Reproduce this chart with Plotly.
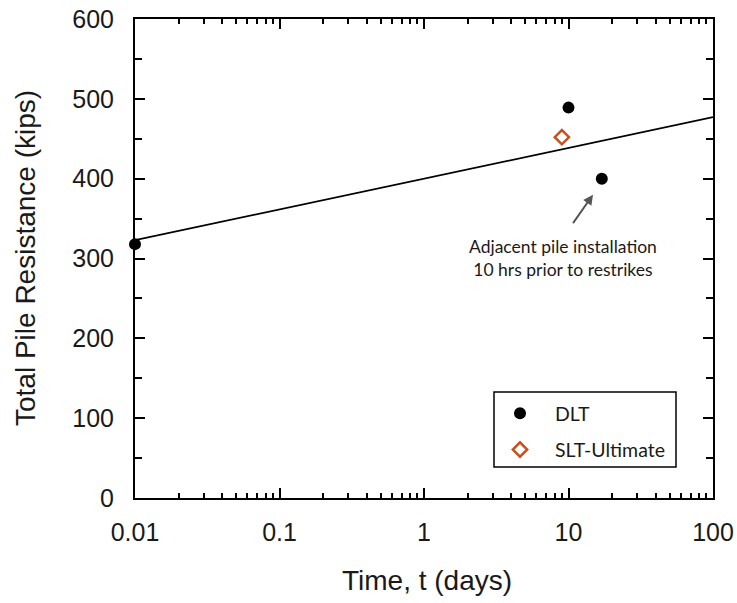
import plotly.graph_objects as go

# Data
dlt_t = [0.01, 10, 17]
dlt_q = [318, 489, 400]
slt_t = [9.0]
slt_q = [452]
trend_t = [0.01, 100]
trend_q = [323, 477]

x_tickvals = [0.01, 0.1, 1, 10, 100]
x_ticktext = ["0.01", "0.1", "1", "10", "100"]
x_minor = [m * d for d in [0.01, 0.1, 1, 10] for m in range(2, 10)]
y_tickvals = [0, 100, 200, 300, 400, 500, 600]

AX_FONT = "Liberation Sans, Arial, sans-serif"
LG_FONT = "Lato, Open Sans, sans-serif"
TXT = "#1a1a1a"

fig = go.Figure()
fig.add_trace(go.Scatter(x=trend_t, y=trend_q, mode="lines",
                         line=dict(color="black", width=1.8),
                         showlegend=False, hoverinfo="skip"))
fig.add_trace(go.Scatter(x=dlt_t, y=dlt_q, mode="markers", name="DLT",
                         legendgroup="a", cliponaxis=False,
                         marker=dict(color="black", size=12, symbol="circle")))
fig.add_trace(go.Scatter(x=slt_t, y=slt_q, mode="markers", name="SLT-Ultimate",
                         legendgroup="b", cliponaxis=False,
                         marker=dict(color="white", size=11, symbol="diamond",
                                     line=dict(color="#c8501e", width=2.5))))

L, R, T, B = 135, 24, 19, 105
W, H = 737, 603
pw, ph = W - L - R, H - T - B

def px_x(p):
    return (p - L) / pw

def px_y(p):
    return (H - B - p) / ph

fig.update_layout(
    width=W, height=H,
    margin=dict(l=L, r=R, t=T, b=B, pad=0, autoexpand=False),
    paper_bgcolor="white", plot_bgcolor="white",
    showlegend=True,
    legend=dict(x=px_x(485), y=px_y(394), xanchor="left", yanchor="top",
                bgcolor="rgba(0,0,0,0)", borderwidth=0,
                font=dict(family=LG_FONT, size=19.5, color=TXT),
                tracegroupgap=8, itemwidth=60),
    xaxis=dict(type="log", range=[-2, 2], tickvals=x_tickvals, ticktext=x_ticktext,
               automargin=False,
               ticks="inside", ticklen=10, tickwidth=2, tickcolor="black",
               showline=True, linewidth=2, linecolor="black", mirror="ticks",
               showgrid=False, zeroline=False,
               tickfont=dict(family=AX_FONT, size=25, color=TXT),
               ticklabelstandoff=11,
               minor=dict(tickvals=x_minor, ticks="inside", ticklen=5,
                          tickwidth=2, tickcolor="black", showgrid=False)),
    yaxis=dict(range=[0, 600], tickvals=y_tickvals,
               automargin=False,
               ticks="inside", ticklen=10, tickwidth=2, tickcolor="black",
               showline=True, linewidth=2, linecolor="black", mirror="ticks",
               showgrid=False, zeroline=False,
               tickfont=dict(family=AX_FONT, size=25, color=TXT),
               ticklabelstandoff=14,
               minor=dict(dtick=50, ticks="inside", ticklen=7,
                          tickwidth=2, tickcolor="black", showgrid=False)),
)

# legend box
fig.add_shape(type="rect", xref="paper", yref="paper",
              x0=px_x(494), x1=px_x(676), y0=px_y(467), y1=px_y(392),
              line=dict(color="black", width=1.5), fillcolor="rgba(0,0,0,0)")

# axis titles
fig.add_annotation(text="Time, t (days)", xref="paper", yref="paper",
                   x=px_x(427), y=px_y(580), showarrow=False,
                   xanchor="center", yanchor="middle",
                   font=dict(family=AX_FONT, size=28, color=TXT))
fig.add_annotation(text="Total Pile Resistance (kips)", xref="paper", yref="paper",
                   x=px_x(25), y=px_y(258), showarrow=False, textangle=-90,
                   xanchor="center", yanchor="middle",
                   font=dict(family=AX_FONT, size=28, color=TXT))

# note and arrow
fig.add_annotation(text="Adjacent pile installation<br>10 hrs prior to restrikes",
                   xref="paper", yref="paper", x=px_x(563), y=px_y(258),
                   showarrow=False, xanchor="center", yanchor="middle",
                   align="center",
                   font=dict(family=LG_FONT, size=17.5, color=TXT))
fig.add_annotation(text="", x=1.1696, y=380, xref="x", yref="y",
                   showarrow=True, arrowhead=2, arrowsize=1, arrowwidth=2,
                   arrowcolor="#555555", ax=-21, ay=30, standoff=0)

fig.write_html("out.html")
